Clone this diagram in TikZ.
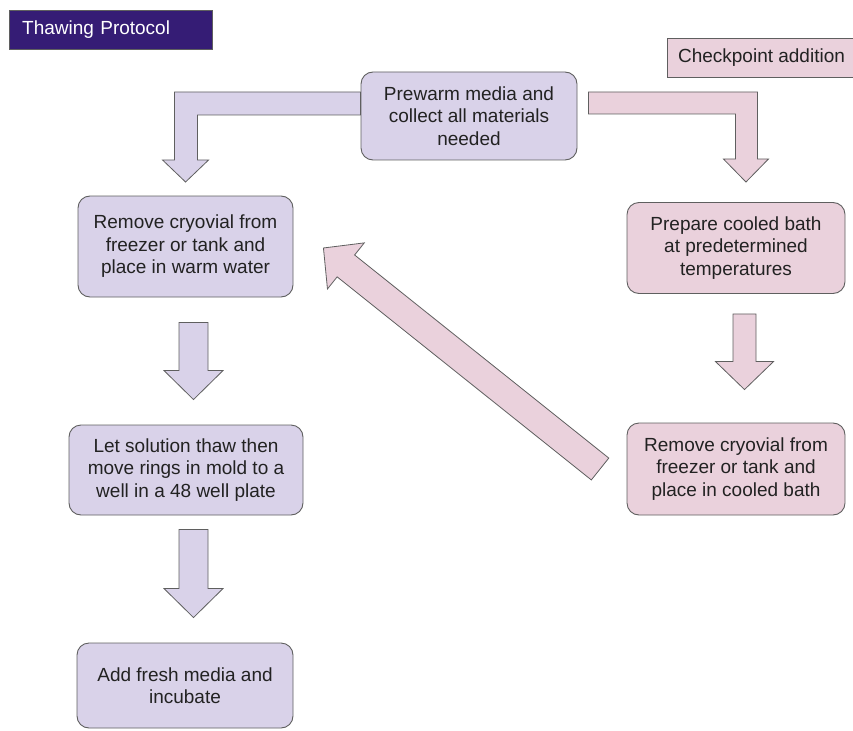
\documentclass[tikz,border=0pt]{standalone}
\usepackage{fontspec}
\setmainfont{Liberation Sans}
\usetikzlibrary{positioning}
\usetikzlibrary{calc}
\definecolor{lav}{HTML}{D9D2E9}
\definecolor{pinkish}{HTML}{EAD1DC}
\definecolor{darkpurple}{HTML}{351C75}
\definecolor{edgegray}{HTML}{5F5F5F}
\definecolor{txt}{HTML}{222222}
% block arrow from #2 to #3: half shaft #4, half head #5, head length #6
\newcommand{\blockarrow}[6]{%
  \coordinate (ba-h) at ($(#3)!#6!(#2)$);
  \draw[#1] ($(#2)!#4!90:(#3)$) -- ($(ba-h)!#4!90:(#3)$) -- ($(ba-h)!#5!90:(#3)$)
    -- (#3) -- ($(ba-h)!#5!-90:(#3)$) -- ($(ba-h)!#4!-90:(#3)$) -- ($(#2)!#4!-90:(#3)$) -- cycle;
}

\begin{document}
\begin{tikzpicture}[x=1pt,y=-1pt]
  \tikzset{
    box/.style={draw=edgegray,line width=0.9pt,rounded corners=12pt,inner sep=0pt,
      align=center,text=txt,font=\fontsize{19}{22.5}\selectfont},
    lavbox/.style={box,fill=lav},
    pinkbox/.style={box,fill=pinkish},
    lavarrow/.style={draw=edgegray,line width=0.8pt,fill=lav,line join=miter},
    pinkarrow/.style={draw=edgegray,line width=0.8pt,fill=pinkish,line join=miter},
  }
  \useasboundingbox (0,0) rectangle (853,730);

    %LABELS
    \node[draw=edgegray,fill=darkpurple,text=white,anchor=west,inner xsep=13pt,inner ysep=0pt,
      minimum height=39pt,text width=177pt,align=left,font=\fontsize{19}{22.5}\selectfont]
      (title) at (9,29.5) {Thawing Protocol};
    \node[pinkbox,rounded corners=0pt,minimum width=189pt,minimum height=39pt] (checkpt) at (761.5,57.5) {Checkpoint addition};

    %LEFT COLUMN
    \node[lavbox,minimum width=216pt,minimum height=88pt] (prewarm) at (469,116) {Prewarm media and\\collect all materials\\needed};
    \node[lavbox,minimum width=215pt,minimum height=101pt] (removeL) at (185.5,246.5) {Remove cryovial from\\freezer or tank and\\place in warm water};
    \node[lavbox,minimum width=234pt,minimum height=90pt] (letsol) at (186,470) {Let solution thaw then\\move rings in mold to a\\well in a 48 well plate};
    \node[lavbox,minimum width=216pt,minimum height=85pt] (addmedia) at (185,685.5) {Add fresh media and\\incubate};

    %RIGHT COLUMN
    \node[pinkbox,minimum width=218pt,minimum height=91pt] (prepare) at (736,248) {Prepare cooled bath\\at predetermined\\temperatures};
    \node[pinkbox,minimum width=218pt,minimum height=92pt] (removeR) at (736,469) {Remove cryovial from\\freezer or tank and\\place in cooled bath};

    %BENT ARROWS
    \draw[lavarrow] ($(prewarm.west)+(0,-24)$) -- ++(-186,0) -- ++(0,68) -- ++(-12,0) -- ++(23,22)
      -- ++(23,-22) -- ++(-11,0) -- ++(0,-45) -- ++(163,0) -- cycle;
    \draw[pinkarrow] ($(prewarm.east)+(11,-24)$) -- ++(169,0) -- ++(0,67) -- ++(11,0) -- ++(-22.5,23)
      -- ++(-22.5,-23) -- ++(12,0) -- ++(0,-45) -- ++(-147,0) -- cycle;

    %STRAIGHT ARROWS
    \coordinate (l1s) at ($(removeL.south)+(8,25)$);
    \coordinate (l1e) at ($(letsol.north)+(7.5,-25)$);
    \coordinate (l2s) at ($(letsol.south)+(7.5,14)$);
    \coordinate (l2e) at ($(addmedia.north)+(8.5,-25)$);
    \foreach \s/\e in {l1s/l1e,l2s/l2e} {
      \blockarrow{lavarrow}{\s}{\e}{14.5pt}{29.5pt}{29pt}
    }
    \coordinate (r1s) at ($(prepare.south)+(8.5,20)$);
    \coordinate (r1e) at ($(removeR.north)+(8.5,-33)$);
    \blockarrow{pinkarrow}{r1s}{r1e}{11.5pt}{29pt}{28pt}
    \coordinate (backs) at ($(removeR.west)+(-26.5,0)$);
    \coordinate (backe) at ($(removeL.east)+(30,1.5)$);
    \blockarrow{pinkarrow}{backs}{backe}{14pt}{29.5pt}{28.7pt}
  \end{tikzpicture}
\end{document}
